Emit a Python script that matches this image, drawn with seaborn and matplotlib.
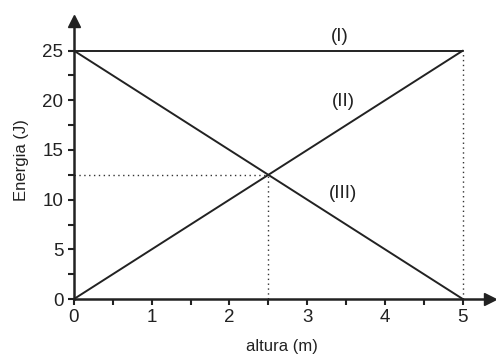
import numpy as np
import pandas as pd
import seaborn as sns
import matplotlib.pyplot as plt

# energia x altura
altura = [0, 5]
energia_I = [25, 25]
energia_II = [0, 25]
energia_III = [25, 0]
rotulos = ["(I)", "(II)", "(III)"]
pos_rotulos = [(3.42, 26.4), (3.46, 19.9), (3.46, 10.6)]
x_cruz, y_cruz = 2.5, 12.5

df = pd.DataFrame({
    "altura": altura * 3,
    "energia": energia_I + energia_II + energia_III,
    "curva": ["I"] * 2 + ["II"] * 2 + ["III"] * 2,
})

sns.set_style("white")
plt.rcParams["font.family"] = ["Liberation Sans", "DejaVu Sans"]

fig = plt.figure(figsize=(4.96, 3.59), dpi=100)
ax = fig.add_axes([0.149, 0.167, 0.839, 0.775])

sns.lineplot(data=df, x="altura", y="energia", units="curva", estimator=None,
             color="#222222", lw=1.4, ax=ax, legend=False)

# linhas pontilhadas
ax.plot([0, x_cruz], [y_cruz, y_cruz], ls=(0, (1, 2.5)), color="#333333", lw=1)
ax.plot([x_cruz, x_cruz], [0, y_cruz], ls=(0, (1, 2.5)), color="#333333", lw=1)
ax.plot([5, 5], [0, 25], ls=(0, (1, 2.5)), color="#333333", lw=1)

for r, (px, py) in zip(rotulos, pos_rotulos):
    ax.text(px, py, r, fontsize=13.5, ha="center", va="center", color="#222222")

ax.set_xlim(0, 5.35)
ax.set_ylim(0, 28)
ax.set_xticks(range(0, 6))
ax.set_yticks(range(0, 26, 5))
ax.set_xticks(np.arange(0.5, 5, 1), minor=True)
ax.set_yticks(np.arange(2.5, 25, 5), minor=True)
ax.tick_params(axis="both", which="major", labelsize=13.5, length=4, width=1.5,
               direction="out", color="#222222", labelcolor="#222222")
ax.tick_params(axis="both", which="minor", length=4, width=1.5,
               direction="out", color="#222222")
ax.tick_params(axis="both", which="both", bottom=True, left=True)

for s in ["top", "right"]:
    ax.spines[s].set_visible(False)
for s in ["left", "bottom"]:
    ax.spines[s].set_linewidth(1.8)
    ax.spines[s].set_color("#222222")

# setas nos eixos
ax.plot(1, 0, ">", transform=ax.get_yaxis_transform(), clip_on=False,
        color="#222222", ms=8)
ax.plot(0, 1, "^", transform=ax.get_xaxis_transform(), clip_on=False,
        color="#222222", ms=8)

ax.set_xlabel("altura (m)", fontsize=12, color="#222222", labelpad=9)
ax.set_ylabel("Energia (J)", fontsize=12, color="#222222", labelpad=10)

plt.savefig("out.png", dpi=100)
